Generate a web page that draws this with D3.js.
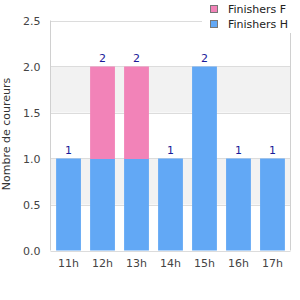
<!DOCTYPE html>
<html><head><meta charset="utf-8">
<script src="https://cdn.jsdelivr.net/npm/d3@7/dist/d3.min.js"></script>
<style>body{margin:0;background:#fff}svg{display:block;font-family:"DejaVu Sans",sans-serif}</style>
</head><body>
<svg id="c" width="300" height="300"></svg>
<script>
const categories = ["11h","12h","13h","14h","15h","16h","17h"];
const finishersH = [1,1,1,1,2,1,1];
const finishersF = [0,1,1,0,0,0,0];
const seriesNames = ["Finishers F","Finishers H"];
const yTicks = [0,0.5,1,1.5,2,2.5];

const svg = d3.select("#c");
const L = 50.5, R = 290.5, T = 20.5, B = 250.5;
const x = d3.scaleBand().domain(categories).range([L, R]).paddingInner(0.27).paddingOuter(0.165);
const y = d3.scaleLinear().domain([0, 2.5]).range([B, T]);

// bands
for (let i = 0; i < yTicks.length - 1; i++) {
  if (i % 2 === 1) {
    svg.append("rect").attr("x", L).attr("width", R - L)
      .attr("y", y(yTicks[i+1])).attr("height", y(yTicks[i]) - y(yTicks[i+1]))
      .attr("fill", "#f2f2f2");
  }
}
// gridlines
svg.selectAll(".g").data(yTicks).enter().append("line")
  .attr("x1", L).attr("x2", R).attr("y1", d => Math.round(y(d)) + 0.5).attr("y2", d => Math.round(y(d)) + 0.5)
  .attr("stroke", "#dcdcdc").attr("stroke-width", 1);
// frame
svg.append("line").attr("x1", L).attr("x2", L).attr("y1", T).attr("y2", B).attr("stroke", "#d0d0d0");
svg.append("line").attr("x1", R).attr("x2", R).attr("y1", T).attr("y2", B).attr("stroke", "#d0d0d0");

const data = categories.map((c, i) => ({c, H: finishersH[i], F: finishersF[i]}));
// H bars
svg.selectAll(".h").data(data).enter().append("rect")
  .attr("x", d => x(d.c)).attr("width", x.bandwidth())
  .attr("y", d => y(d.H)).attr("height", d => y(0) - y(d.H))
  .attr("fill", "#62a8f5");
// F bars stacked
svg.selectAll(".f").data(data.filter(d => d.F > 0)).enter().append("rect")
  .attr("x", d => x(d.c)).attr("width", x.bandwidth())
  .attr("y", d => y(d.H + d.F)).attr("height", d => y(d.H) - y(d.H + d.F) + 0.5)
  .attr("fill", "#f283b8");
// value labels
svg.selectAll(".v").data(data).enter().append("text")
  .attr("x", d => x(d.c) + x.bandwidth() / 2).attr("y", d => y(d.H + d.F) - 5)
  .attr("text-anchor", "middle").attr("font-size", 11).attr("fill", "#1a1a99")
  .text(d => d.H + d.F);

// y ticks
svg.selectAll(".yt").data(yTicks).enter().append("text")
  .attr("x", L - 10).attr("y", d => y(d) + 4).attr("text-anchor", "end")
  .attr("font-size", 11).attr("fill", "#444").text(d => d.toFixed(1));
// x ticks
svg.selectAll(".xt").data(categories).enter().append("text")
  .attr("x", d => x(d) + x.bandwidth() / 2).attr("y", 267).attr("text-anchor", "middle")
  .attr("font-size", 11).attr("fill", "#444").text(d => d);
// y title
svg.append("text").attr("transform", "translate(10,134) rotate(-90)")
  .attr("text-anchor", "middle").attr("font-size", 11).attr("fill", "#333")
  .text("Nombre de coureurs");

// legend
svg.append("rect").attr("x", 202).attr("y", 0).attr("width", 98).attr("height", 33).attr("fill", "#fff");
const colors = ["#f283b8", "#62a8f5"];
seriesNames.forEach((n, i) => {
  svg.append("rect").attr("x", 210.5).attr("y", 5.5 + i * 15).attr("width", 7).attr("height", 7)
    .attr("fill", colors[i]).attr("stroke", "#777");
  svg.append("text").attr("x", 228).attr("y", 13 + i * 15).attr("font-size", 11).attr("fill", "#222").text(n);
});
</script>
</body></html>
